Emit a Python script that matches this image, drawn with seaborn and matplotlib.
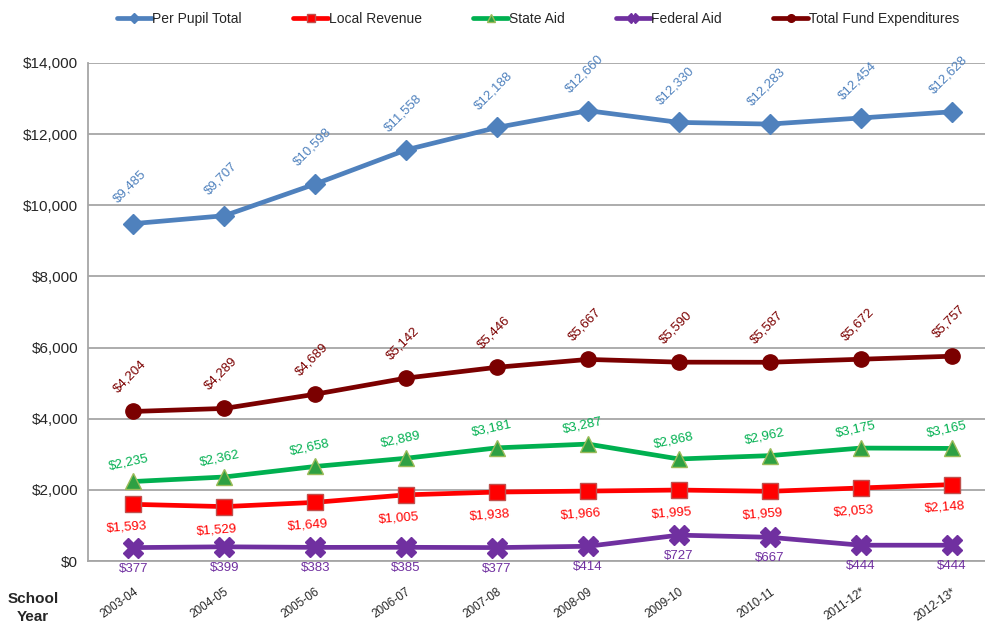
import pandas as pd
import numpy as np
import matplotlib
matplotlib.use("Agg")
import matplotlib.pyplot as plt
import seaborn as sns

# Per pupil revenue / expenditures by school year
years = ['2003-04', '2004-05', '2005-06', '2006-07', '2007-08',
         '2008-09', '2009-10', '2010-11', '2011-12*', '2012-13*']
per_pupil = [9485, 9707, 10598, 11558, 12188, 12660, 12330, 12283, 12454, 12628]
local_rev = [1593, 1529, 1649, 1860, 1938, 1966, 1995, 1959, 2053, 2148]
local_text = ['$1,593', '$1,529', '$1,649', '$1,005', '$1,938',
              '$1,966', '$1,995', '$1,959', '$2,053', '$2,148']
state_aid = [2235, 2362, 2658, 2889, 3181, 3287, 2868, 2962, 3175, 3165]
federal_aid = [377, 399, 383, 385, 377, 414, 727, 667, 444, 444]
total_exp = [4204, 4289, 4689, 5142, 5446, 5667, 5590, 5587, 5672, 5757]

sns.set_style("white")
plt.rcParams['font.family'] = ['Liberation Sans', 'DejaVu Sans']

fig = plt.figure(figsize=(9.85, 6.25), dpi=100)
ax = fig.add_axes([88 / 985, 64 / 625, 909 / 985, 498 / 625])

x = np.arange(len(years))

# name, values, colour, marker, marker size, marker face, marker edge, label offset px, rotation
series = [
    ('Per Pupil Total', per_pupil, '#4F81BD', 'D', 10, '#4F81BD', '#4F81BD', (-3, 37), 45),
    ('Local Revenue', local_rev, '#FF0000', 's', 11, '#FF0000', '#C0504D', (-7, -23), 4),
    ('State Aid', state_aid, '#00B050', '^', 11, '#2EA043', '#9BBB59', (-5, 19), 12),
    ('Federal Aid', federal_aid, '#7030A0', 'X', 14, '#7030A0', '#7030A0', (0, -21), 0),
    ('Total Fund Expenditures', total_exp, '#7B0000', 'o', 11, '#7B0000', '#7B0000', (-3, 35), 45),
]

px = 72 / 100  # pixel -> points
for name, vals, col, mk, ms, mfc, mec, off, rot in series:
    sns.lineplot(x=x, y=vals, ax=ax, color=col, linewidth=3.4, marker=mk,
                 markersize=ms, markerfacecolor=mfc, markeredgecolor=mec,
                 markeredgewidth=1, label=name, zorder=3)
    texts = local_text if name == 'Local Revenue' else [f'${v:,}' for v in vals]
    for xi, v, t in zip(x, vals, texts):
        ax.annotate(t, (xi, v), xytext=(off[0] * px, off[1] * px),
                    textcoords='offset points', ha='center', va='center',
                    rotation=rot, fontsize=9.5, color=col)

ax.set_ylim(0, 14000)
ax.set_xlim(-0.5, 9.5)
ax.set_yticks(np.arange(0, 14001, 2000))
ax.set_yticklabels([f'${v:,}' for v in range(0, 14001, 2000)], fontsize=11)
ax.yaxis.grid(True, color='#A6A6A6', linewidth=1.3)
ax.set_axisbelow(True)
ax.tick_params(axis='y', length=5, color='#A6A6A6', width=1.2, pad=2)

ax.set_xticks(x)
ax.set_xticklabels(years, rotation=35, ha='right', rotation_mode='anchor', fontsize=8.5)
ax.tick_params(axis='x', which='major', length=0, pad=18)
ax.set_xticks(np.arange(-0.5, 10, 1), minor=True)
ax.tick_params(axis='x', which='minor', length=5, color='#A6A6A6', width=1.2)

for s in ['top', 'right']:
    ax.spines[s].set_visible(False)
for s in ['left', 'bottom']:
    ax.spines[s].set_color('#A6A6A6')
    ax.spines[s].set_linewidth(1.3)

ax.set_xlabel('')
ax.set_ylabel('')
fig.text(33 / 985, 1 - 608 / 625, 'School\nYear', ha='center', va='center',
         fontsize=11, fontweight='bold', linespacing=1.3)

leg = ax.legend(loc='center', bbox_to_anchor=(538 / 985, 1 - 19 / 625),
                bbox_transform=fig.transFigure, ncol=5, frameon=False,
                fontsize=10, handlelength=2.5, handletextpad=0.05,
                columnspacing=3.7, markerscale=0.5)

fig.savefig('out.png', dpi=100)
